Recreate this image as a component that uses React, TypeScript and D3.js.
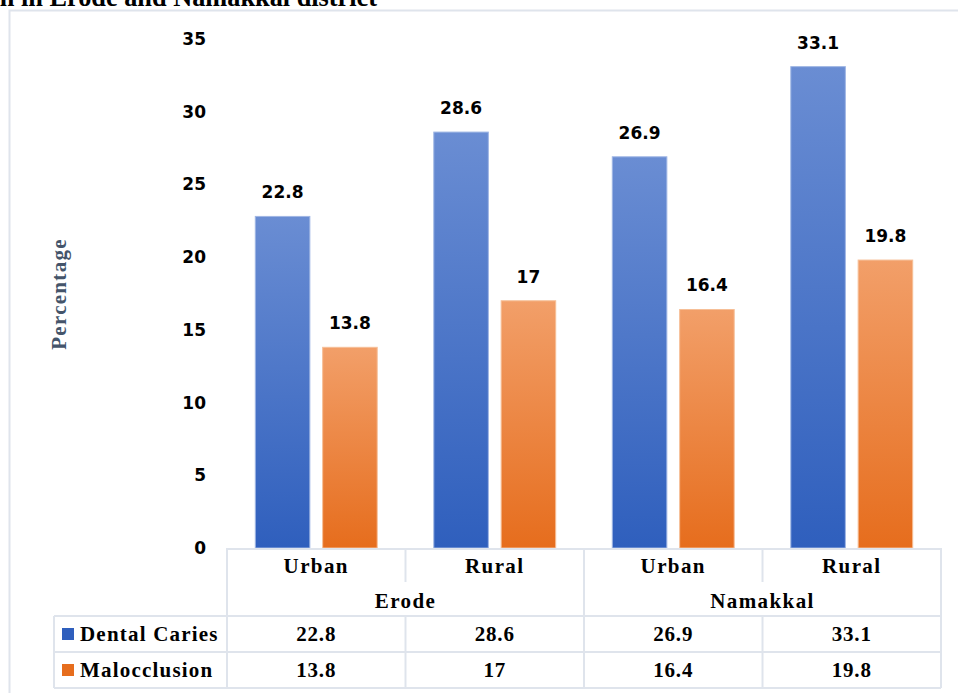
import React from 'react';
import * as d3 from 'd3';

// chart data
const districts = ['Erode', 'Namakkal'];
const areas = ['Urban', 'Rural'];
const series = ['Dental Caries', 'Malocclusion'];
const dentalCaries = [22.8, 28.6, 26.9, 33.1];
const malocclusion = [13.8, 17, 16.4, 19.8];
const yTicks = [0, 5, 10, 15, 20, 25, 30, 35];

const W = 958;
const H = 693;
const serif = '"Liberation Serif", "Times New Roman", serif';
const sans = '"DejaVu Sans", Verdana, sans-serif';
const gridColor = '#dfe4ec';

const colors: Record<string, { top: string; bottom: string; edge: string }> = {
  'Dental Caries': { top: '#6a8dd3', bottom: '#2f5fbd', edge: '#9fb6e4' },
  Malocclusion: { top: '#f29f69', bottom: '#e66d1d', edge: '#f6bf97' },
};

export default function App() {
  const cats = districts.flatMap((d) => areas.map((a) => `${d}|${a}`));
  const values: Record<string, number[]> = {
    'Dental Caries': dentalCaries,
    Malocclusion: malocclusion,
  };

  const tableLeft = 227;
  const tableRight = 941;
  const legendLeft = 54;
  const y0 = 548;

  const x = d3.scaleBand<string>().domain(cats).range([tableLeft, tableRight]).padding(0);
  const xInner = d3
    .scaleBand<string>()
    .domain(series)
    .range([0, x.bandwidth()])
    .paddingInner(0.19)
    .paddingOuter(0.42);
  const y = d3.scaleLinear().domain([0, 35]).range([y0, 39]);

  const rowH = [y0, 582, 616, 652, 688];
  const groupX = d3.scaleBand<string>().domain(districts).range([tableLeft, tableRight]);

  return (
    <div>
      <style>{`body{margin:0;}`}</style>
      <svg width={W} height={H} style={{ display: 'block', background: '#fff' }}>
        <defs>
          {series.map((s, i) => (
            <linearGradient key={s} id={`grad${i}`} x1="0" y1="0" x2="0" y2="1">
              <stop offset="0%" stopColor={colors[s].top} />
              <stop offset="100%" stopColor={colors[s].bottom} />
            </linearGradient>
          ))}
        </defs>

        {/* title, cut by the top edge as in the source image */}
        <text
          x={377}
          y={6}
          textAnchor="end"
          fontFamily={serif}
          fontWeight="bold"
          fontSize={26.3}
          fill="#000"
        >
          Prevalence of dental caries and malocclusion among schoolchildren in Erode and Namakkal district
        </text>

        {/* frame */}
        <rect x={9.5} y={10.5} width={W} height={H} fill="none" stroke={gridColor} strokeWidth={2} />

        {/* y axis label */}
        <text
          transform={`translate(66,${294}) rotate(-90)`}
          textAnchor="middle"
          fontFamily={serif}
          fontWeight="bold"
          fontSize={21}
          fill="#44546a"
          letterSpacing={1.3}
        >
          Percentage
        </text>

        {/* y ticks */}
        {yTicks.map((t) => (
          <text
            key={t}
            x={206}
            y={y(t)}
            dy="0.35em"
            textAnchor="end"
            fontFamily={sans}
            fontWeight="bold"
            fontSize={17}
            fill="#000"
          >
            {t}
          </text>
        ))}

        {/* bars */}
        {cats.map((c, ci) =>
          series.map((s, si) => {
            const v = values[s][ci];
            const bx = (x(c) || 0) + (xInner(s) || 0);
            const by = y(v);
            return (
              <g key={`${c}-${s}`}>
                <rect
                  x={bx}
                  y={by}
                  width={xInner.bandwidth()}
                  height={y0 - by}
                  fill={`url(#grad${si})`}
                  stroke={colors[s].edge}
                  strokeWidth={1}
                />
                <text
                  x={bx + xInner.bandwidth() / 2}
                  y={by - 18}
                  textAnchor="middle"
                  fontFamily={sans}
                  fontWeight="bold"
                  fontSize={17}
                  fill="#000"
                >
                  {v}
                </text>
              </g>
            );
          })
        )}

        {/* data table */}
        <g stroke={gridColor} strokeWidth={2} fill="none">
          <line x1={tableLeft} x2={tableRight} y1={y0 + 1} y2={y0 + 1} />
          <line x1={legendLeft} x2={tableRight} y1={rowH[2]} y2={rowH[2]} />
          <line x1={legendLeft} x2={tableRight} y1={rowH[3]} y2={rowH[3]} />
          <line x1={legendLeft} x2={tableRight} y1={rowH[4]} y2={rowH[4]} />
          <line x1={legendLeft} x2={legendLeft} y1={rowH[2]} y2={rowH[4]} />
          {cats.map((c, i) => {
            const xl = x(c) || 0;
            const full = i % 2 === 0;
            return <line key={c} x1={xl} x2={xl} y1={full ? y0 : rowH[2]} y2={rowH[4]} />;
          })}
          {cats.map((c, i) =>
            i % 2 === 1 ? (
              <line key={`h${c}`} x1={x(c) || 0} x2={x(c) || 0} y1={y0} y2={rowH[1]} />
            ) : null
          )}
          <line x1={tableRight} x2={tableRight} y1={y0} y2={rowH[4]} />
        </g>

        {cats.map((c) => (
          <text
            key={`a${c}`}
            x={(x(c) || 0) + x.bandwidth() / 2}
            y={566}
            dy="0.35em"
            textAnchor="middle"
            fontFamily={serif}
            fontWeight="bold"
            fontSize={21}
            letterSpacing={1.4}
          >
            {c.split('|')[1]}
          </text>
        ))}
        {districts.map((d) => (
          <text
            key={d}
            x={(groupX(d) || 0) + groupX.bandwidth() / 2}
            y={601}
            dy="0.35em"
            textAnchor="middle"
            fontFamily={serif}
            fontWeight="bold"
            fontSize={21}
            letterSpacing={1.4}
          >
            {d}
          </text>
        ))}

        {series.map((s, si) => {
          const cy = (rowH[2 + si] + rowH[3 + si]) / 2;
          return (
            <g key={`row${s}`}>
              <rect x={62} y={cy - 6} width={12} height={12} fill={colors[s].bottom} />
              <text
                x={80}
                y={cy}
                dy="0.35em"
                fontFamily={serif}
                fontWeight="bold"
                fontSize={21}
                letterSpacing={1.2}
              >
                {s}
              </text>
              {cats.map((c, ci) => (
                <text
                  key={c}
                  x={(x(c) || 0) + x.bandwidth() / 2}
                  y={cy}
                  dy="0.35em"
                  textAnchor="middle"
                  fontFamily={serif}
                  fontWeight="bold"
                  fontSize={21}
                  letterSpacing={0.8}
                >
                  {values[s][ci]}
                </text>
              ))}
            </g>
          );
        })}
      </svg>
    </div>
  );
}
